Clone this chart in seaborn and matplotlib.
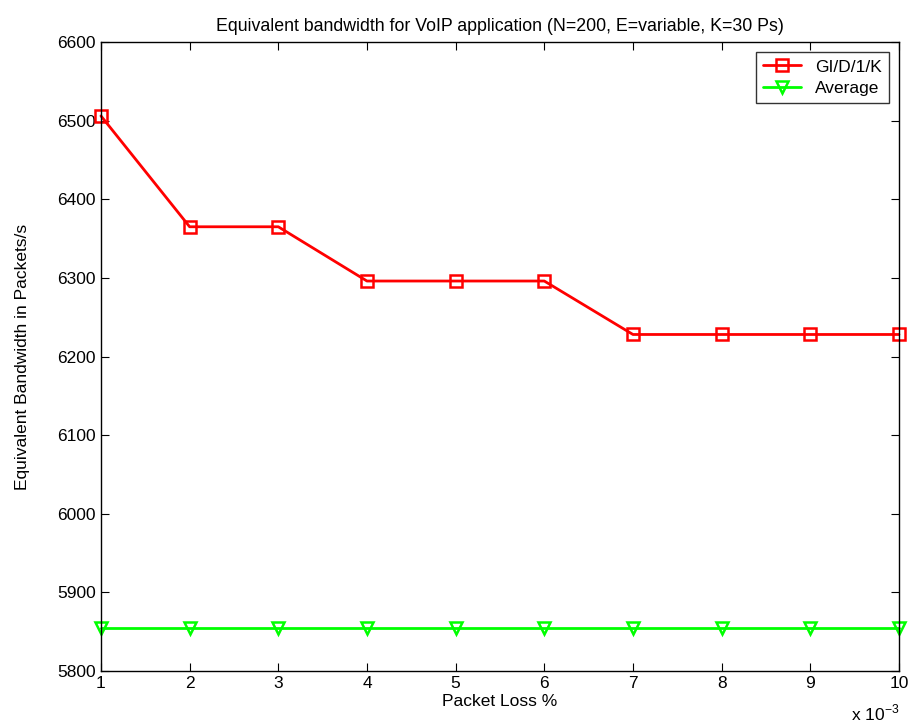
import matplotlib
matplotlib.use("Agg")
import matplotlib.pyplot as plt
from matplotlib.ticker import FuncFormatter
import seaborn as sns
import pandas as pd

packet_loss = [0.001, 0.002, 0.003, 0.004, 0.005, 0.006, 0.007, 0.008, 0.009, 0.010]
gid1k = [6506, 6365, 6365, 6296, 6296, 6296, 6228, 6228, 6228, 6228]
average = [5855, 5855, 5855, 5855, 5855, 5855, 5855, 5855, 5855, 5855]

series = [
    ("GI/D/1/K", gid1k, "#ff0000", "s"),
    ("Average", average, "#00ff00", "v"),
]

sns.set_style("ticks", {"text.color": "black", "axes.labelcolor": "black",
                        "xtick.color": "black", "ytick.color": "black",
                        "axes.edgecolor": "black"})
plt.rcParams['font.family'] = ['Liberation Sans', 'DejaVu Sans']

fig = plt.figure(figsize=(9.12, 7.28), dpi=100)
ax = fig.add_axes([0.1107, 0.0783, 0.875, 0.8640])

for name, vals, col, mk in series:
    df = pd.DataFrame({"loss": packet_loss, "bw": vals})
    sns.lineplot(data=df, x="loss", y="bw", color=col, marker=mk,
                 linewidth=2, markersize=8.5, markerfacecolor="none",
                 markeredgecolor=col, markeredgewidth=1.8, label=name,
                 clip_on=False, ax=ax)

ax.set_xlim(0.001, 0.010)
ax.set_ylim(5800, 6600)
ax.set_xticks(packet_loss)
ax.xaxis.set_major_formatter(FuncFormatter(lambda v, p: f"{v * 1e3:g}"))
ax.set_yticks(range(5800, 6601, 100))
ax.tick_params(direction="in", labelsize=12.5, top=True, right=True, length=6)
for s in ax.spines.values():
    s.set_linewidth(1.0)
    s.set_visible(True)

ax.set_xlabel("Packet Loss %", fontsize=12.5, labelpad=2)
ax.set_ylabel("Equivalent Bandwidth in Packets/s", fontsize=12.5, labelpad=20)
ax.set_title("Equivalent bandwidth for VoIP application (N=200, E=variable, K=30 Ps)",
             fontsize=12.8, pad=8)
ax.text(1.0, -0.05, "x 10$^{\\mathregular{-3}}$", transform=ax.transAxes, fontsize=12.5,
        ha="right", va="top")

leg = ax.legend(title=None, loc="upper right", fontsize=12.5, frameon=True,
                fancybox=False, edgecolor="black", borderaxespad=0.6,
                handlelength=2.2, borderpad=0.4, labelspacing=0.35)
leg.get_frame().set_linewidth(1.0)

fig.savefig("out.png", dpi=100)
